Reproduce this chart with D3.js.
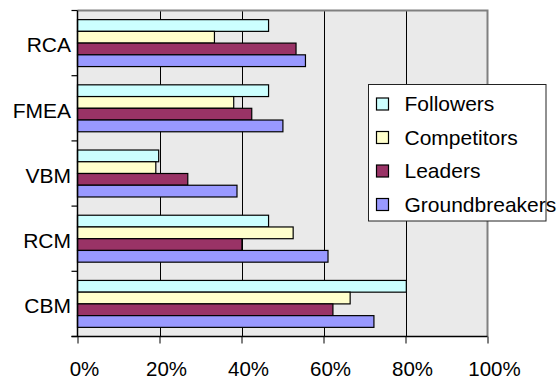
<!DOCTYPE html>
<html><head><meta charset="utf-8">
<script src="https://cdn.jsdelivr.net/npm/d3@7"></script>
<style>body{margin:0;background:#fff}svg{display:block}text{font-family:"Liberation Sans",Arial,sans-serif}</style>
</head><body><svg id="c" width="557" height="380"></svg>
<script>
const categories = ["RCA","FMEA","VBM","RCM","CBM"];
const seriesNames = ["Followers","Competitors","Leaders","Groundbreakers"];
const followers      = [46.6, 46.6, 19.8, 46.6, 80.2];
const competitors    = [33.4, 38.1, 19.1, 52.6, 66.5];
const leaders        = [53.3, 42.5, 26.9, 40.1, 62.3];
const groundbreakers = [55.6, 50.1, 38.9, 61.1, 72.3];
const xTicks = [0, 20, 40, 60, 80, 100];
const colors = ["#CCFFFF","#FFFFCC","#993366","#9999FF"];
const values = [followers, competitors, leaders, groundbreakers];

const svg = d3.select("#c");
const L = 77.5, R = 487.5, T = 10.5, B = 336.5;
const x = d3.scaleLinear().domain([0,100]).range([L,R]);
const y0 = d3.scaleBand().domain(categories).range([T,B]).paddingInner(0.28).paddingOuter(0.14);
const y1 = d3.scaleBand().domain(seriesNames).range([0,y0.bandwidth()]);

svg.append("rect").attr("x",L).attr("y",T).attr("width",R-L).attr("height",B-T).attr("fill","#EAEAEA");
svg.append("g").selectAll("line").data(xTicks.slice(1,-1)).join("line")
  .attr("x1",d=>Math.round(x(d))+0.5).attr("x2",d=>Math.round(x(d))+0.5).attr("y1",T).attr("y2",B)
  .attr("stroke","#000").attr("stroke-width",1);
svg.append("path").attr("d",`M${L},${T}H${R}V${B}`).attr("fill","none").attr("stroke","#808080").attr("stroke-width",2);

categories.forEach((c,ci)=>{
  seriesNames.forEach((s,si)=>{
    svg.append("rect")
      .attr("x",x(0)).attr("y",y0(c)+y1(s))
      .attr("width",x(values[si][ci])-x(0)).attr("height",y1.bandwidth())
      .attr("fill",colors[si]).attr("stroke","#000").attr("stroke-width",1.2);
  });
});

const xAxis = d3.axisBottom(x).tickValues(xTicks).tickSize(7).tickFormat(d=>d+"%");
const gx = svg.append("g").attr("transform",`translate(0,${B})`).call(xAxis);
gx.select(".domain").remove();
gx.selectAll(".tick line").attr("stroke","#000");
gx.selectAll(".tick text").attr("dy",0).attr("y",39.5).attr("dx",6.5).style("font-size","20.5px").attr("fill","#000");
svg.append("line").attr("x1",L-6).attr("x2",R).attr("y1",B).attr("y2",B).attr("stroke","#000").attr("stroke-width",1.5);

const step = y0.step();
const bounds = d3.range(categories.length+1).map(i=>T+i*step);
svg.append("g").selectAll("line").data(bounds).join("line")
  .attr("x1",L-6).attr("x2",L).attr("y1",d=>d).attr("y2",d=>d).attr("stroke","#000").attr("stroke-width",1.2);
svg.append("line").attr("x1",L).attr("x2",L).attr("y1",T).attr("y2",B).attr("stroke","#000").attr("stroke-width",1.5);
svg.append("g").selectAll("text").data(categories).join("text")
  .attr("x",71).attr("y",d=>y0(d)+y0.bandwidth()/2+2).attr("dy","0.35em")
  .attr("text-anchor","end").style("font-size","21px").text(d=>d);

const lg = svg.append("g");
lg.append("rect").attr("x",368.5).attr("y",84.5).attr("width",177.5).attr("height",136.5)
  .attr("fill","#fff").attr("stroke","#222").attr("stroke-width",1);
seriesNames.forEach((s,i)=>{
  const cy = 104 + i*33.5;
  lg.append("rect").attr("x",376.5).attr("y",cy-6).attr("width",12).attr("height",12)
    .attr("fill",colors[i]).attr("stroke","#000").attr("stroke-width",1.2);
  lg.append("text").attr("x",404.5).attr("y",cy).attr("dy","0.35em").style("font-size","21px").text(s);
});
</script></body></html>
